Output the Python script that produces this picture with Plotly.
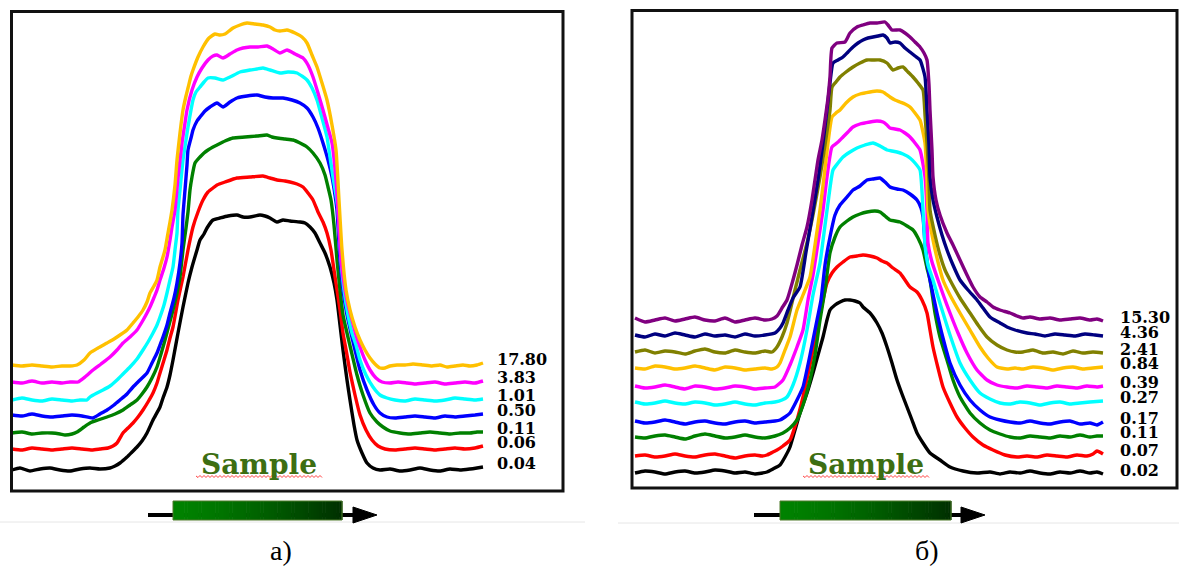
import plotly.graph_objects as go

W, H = 1179, 567

# ---------------- Panel a: (position, signal) pairs ----------------
A_YELLOW = [(2,126),(12,125),(22,126),(32,125),(42,124),(52,125),(60,125),(67,126),(74,131),(80,138),(88,143),(97,148),(104,152),(110,156),(117,161),(123,168),(128,174),(133,181),(137,189),(140,198),(144,205),(147,211),(150,224),(153,234),(155,241),(158,258),(160,269),(162,281),(165,306),(167,331),(170,358),(173,381),(176,395),(178,403),(181,415),(183,421),(188,434),(193,444),(199,453),(205,457),(210,456),(215,457),(219,460),(223,463),(230,466),(237,468),(245,467),(253,466),(260,464),(265,461),(270,460),(277,461),(285,458),(292,454),(297,448),(302,436),(307,424),(312,408),(317,391),(322,366),(326,341),(329,291),(332,241),(336,201),(340,181),(345,164),(350,151),(355,141),(360,133),(365,127),(370,123),(375,123),(380,125),(387,126),(395,126),(403,127),(413,126),(422,125),(430,126),(437,124),(445,125),(453,126),(460,125),(467,126),(473,128)]
A_MAGENTA = [(2,109),(12,108),(22,110),(32,108),(42,109),(52,108),(60,109),(68,109),(75,114),(83,121),(91,127),(100,134),(107,141),(113,148),(120,154),(127,161),(132,169),(137,178),(140,184),(143,191),(147,201),(150,211),(154,223),(157,234),(160,251),(162,264),(165,281),(168,313),(172,348),(175,368),(177,381),(182,401),(187,414),(192,423),(198,431),(203,435),(207,436),(213,433),(220,437),(227,441),(233,443),(240,444),(248,444),(257,445),(263,442),(270,438),(277,441),(285,437),(293,433),(298,426),(303,414),(308,398),(313,381),(318,363),(322,348),(326,311),(328,281),(331,231),(335,201),(338,186),(342,171),(346,156),(350,144),(355,131),(360,121),(366,113),(372,109),(380,108),(388,109),(397,108),(405,107),(415,108),(425,109),(435,107),(445,108),(455,109),(465,108),(473,110)]
A_CYAN = [(2,91),(12,93),(22,91),(32,90),(42,92),(52,91),(62,90),(70,91),(77,91),(80,94),(87,98),(93,101),(100,105),(107,111),(113,117),(120,124),(127,132),(133,141),(138,149),(143,158),(147,166),(150,174),(154,186),(157,198),(160,211),(163,224),(165,241),(167,258),(168,281),(170,301),(173,331),(176,351),(178,364),(181,381),(183,391),(186,399),(190,404),(194,409),(198,413),(205,413),(213,411),(220,414),(230,419),(240,421),(247,422),(253,423),(260,421),(270,418),(278,419),(287,418),(297,411),(302,403),(307,391),(312,373),(317,354),(320,334),(323,314),(326,296),(328,281),(331,231),(334,201),(338,176),(342,158),(346,146),(350,131),(356,116),(363,104),(370,96),(377,93),(385,91),(395,90),(405,92),(415,91),(425,90),(435,91),(445,93),(455,92),(465,91),(473,92)]
A_BLUE = [(2,76),(12,75),(22,77),(32,75),(42,74),(52,75),(62,76),(72,75),(83,73),(90,77),(97,81),(104,86),(110,91),(117,97),(123,104),(130,111),(137,118),(142,128),(147,138),(150,146),(153,154),(157,166),(160,178),(164,193),(167,208),(170,228),(172,248),(173,276),(175,301),(177,326),(178,341),(181,353),(183,361),(187,370),(190,374),(195,380),(200,384),(207,388),(213,384),(220,389),(227,393),(237,395),(247,396),(255,394),(263,393),(273,393),(282,391),(290,388),(297,383),(303,374),(308,363),(313,348),(318,331),(322,314),(325,296),(327,281),(330,231),(333,201),(337,176),(341,158),(345,141),(350,121),(357,101),(364,86),(370,78),(377,74),(385,73),(395,74),(405,75),(415,74),(425,73),(435,75),(445,74),(455,75),(465,76),(473,77)]
A_GREEN = [(2,58),(12,59),(22,57),(32,58),(42,58),(50,57),(55,56),(62,57),(67,59),(74,64),(80,68),(88,71),(97,74),(105,77),(113,81),(120,86),(127,91),(132,97),(137,104),(142,113),(147,124),(151,137),(155,151),(159,166),(163,181),(167,198),(170,214),(173,241),(176,263),(178,279),(180,301),(182,314),(185,328),(190,334),(194,338),(198,341),(203,344),(207,346),(215,350),(223,353),(235,354),(247,355),(257,356),(262,354),(267,353),(275,352),(283,351),(290,348),(297,344),(303,338),(310,328),(315,316),(318,304),(321,291),(324,266),(327,231),(330,201),(333,176),(337,158),(341,141),(347,116),(353,96),(360,78),(367,69),(373,64),(380,60),(390,58),(400,57),(410,58),(420,59),(430,58),(440,57),(450,58),(460,58),(467,59),(473,59)]
A_RED = [(2,42),(12,41),(22,43),(32,42),(42,41),(52,42),(62,43),(72,42),(82,41),(90,42),(98,43),(103,45),(107,48),(113,58),(118,63),(123,68),(128,74),(133,81),(138,89),(143,98),(147,108),(150,118),(154,131),(157,141),(160,153),(163,164),(168,191),(173,214),(178,241),(183,264),(188,279),(193,291),(198,299),(203,303),(207,306),(215,309),(227,313),(240,314),(253,315),(260,313),(267,311),(275,310),(280,309),(287,307),(293,304),(298,298),(303,291),(308,279),(313,269),(317,258),(321,241),(324,221),(327,201),(330,181),(333,158),(337,136),(340,119),(345,96),(350,76),(356,61),(362,51),(368,45),(375,42),(385,41),(395,42),(405,43),(415,42),(425,41),(435,42),(445,43),(455,42),(465,43),(473,45)]
A_BLACK = [(2,21),(10,23),(20,20),(30,22),(40,23),(50,21),(60,20),(70,22),(80,23),(90,22),(100,23),(105,25),(110,28),(117,34),(122,39),(127,44),(132,50),(137,58),(143,71),(150,84),(153,93),(157,104),(160,116),(163,131),(168,158),(173,184),(178,208),(182,224),(187,241),(190,251),(194,257),(197,263),(203,271),(210,273),(218,275),(227,276),(233,274),(240,274),(250,276),(255,275),(260,273),(267,269),(273,271),(280,270),(290,269),(295,268),(300,264),(305,258),(310,248),(315,238),(320,224),(324,208),(327,191),(330,166),(333,141),(337,111),(340,91),(344,66),(347,51),(352,38),(357,28),(363,23),(370,21),(380,22),(390,20),(400,21),(410,23),(420,21),(430,20),(440,22),(450,21),(460,22),(467,23),(473,24)]

A_SERIES = [A_BLACK, A_RED, A_GREEN, A_BLUE, A_CYAN, A_MAGENTA, A_YELLOW]
A_LABELS = ["0.04", "0.06", "0.11", "0.50", "1.01", "3.83", "17.80"]
A_COLORS = ["#000000", "#FF0000", "#008000", "#0000FF", "#00FFFF", "#FF00FF", "#FFC000"]

# ---------------- Panel b ----------------
B_PURPLE = [(3,170),(13,166),(23,168),(33,170),(43,167),(53,169),(63,171),(73,168),(83,167),(93,170),(103,166),(113,168),(123,170),(133,168),(140,169),(145,172),(150,180),(155,188),(161,208),(165,223),(170,243),(175,261),(180,288),(186,328),(190,348),(193,368),(196,390),(198,411),(200,440),(205,445),(213,446),(218,455),(225,461),(231,463),(238,465),(245,465),(253,466),(256,463),(260,458),(268,458),(273,455),(278,451),(283,446),(288,441),(292,435),(295,428),(297,403),(298,378),(300,338),(301,311),(304,288),(308,273),(315,255),(321,243),(328,228),(335,213),(341,201),(348,191),(355,186),(361,181),(368,178),(378,175),(385,172),(391,170),(398,171),(408,169),(418,170),(428,168),(438,169),(448,170),(458,168),(465,169),(471,167)]
B_NAVY = [(3,153),(13,151),(23,154),(33,152),(43,155),(53,153),(63,151),(73,154),(83,152),(93,153),(103,151),(113,154),(123,152),(133,153),(143,155),(148,160),(151,165),(156,178),(161,190),(168,201),(174,236),(180,271),(186,308),(191,345),(195,378),(198,405),(201,425),(206,428),(211,431),(216,436),(221,441),(226,445),(231,448),(236,450),(241,451),(246,452),(251,453),(255,450),(258,445),(263,446),(268,445),(273,440),(278,436),(283,432),(288,428),(293,411),(295,378),(297,343),(298,311),(301,288),(305,271),(310,253),(315,238),(321,223),(328,208),(336,198),(345,188),(351,180),(358,171),(368,165),(375,161),(383,158),(395,155),(403,154),(413,152),(423,154),(433,153),(443,152),(453,154),(463,153),(471,152)]
B_OLIVE = [(3,136),(13,138),(23,135),(33,137),(43,136),(53,134),(63,137),(73,139),(83,136),(93,135),(103,138),(113,136),(123,135),(133,137),(140,136),(145,141),(150,151),(155,165),(163,198),(168,218),(175,245),(181,273),(188,311),(193,343),(198,378),(200,401),(204,406),(208,411),(214,416),(221,421),(228,425),(235,428),(241,428),(248,428),(255,425),(261,418),(266,420),(271,421),(276,416),(281,411),(286,405),(291,398),(293,373),(295,345),(297,308),(298,278),(303,253),(308,233),(313,218),(318,208),(328,190),(338,175),(346,163),(355,151),(365,143),(375,138),(383,136),(391,136),(401,138),(411,135),(421,136),(431,134),(441,137),(451,135),(461,136),(471,135)]
B_GOLD = [(3,120),(13,119),(23,122),(33,121),(43,119),(53,120),(63,122),(73,120),(83,118),(93,121),(103,120),(113,118),(123,119),(133,120),(140,119),(145,121),(148,125),(153,138),(158,151),(165,178),(171,193),(178,211),(183,243),(188,278),(192,311),(196,345),(200,371),(204,375),(208,378),(214,385),(221,391),(228,394),(238,396),(245,397),(251,396),(258,391),(263,388),(268,386),(273,384),(278,381),(283,375),(288,368),(293,345),(295,308),(296,278),(301,248),(306,226),(311,208),(318,193),(328,175),(338,158),(348,141),(356,130),(365,121),(375,119),(383,120),(391,119),(401,121),(411,120),(421,118),(431,120),(441,121),(451,119),(461,120),(471,121)]
B_MAGENTA = [(3,102),(13,100),(23,101),(33,103),(43,101),(53,99),(63,102),(73,101),(83,99),(93,100),(103,102),(113,101),(123,99),(133,100),(143,101),(151,108),(158,123),(165,141),(171,158),(176,188),(181,213),(186,245),(191,278),(195,311),(200,341),(206,346),(211,351),(216,356),(221,361),(228,364),(238,366),(245,367),(251,366),(255,363),(258,360),(263,359),(268,358),(273,355),(278,351),(283,345),(288,338),(293,311),(295,278),(296,245),(300,226),(306,208),(312,191),(318,175),(326,155),(335,135),(345,118),(355,108),(365,103),(375,101),(385,100),(395,102),(405,101),(415,100),(425,102),(435,101),(445,100),(455,102),(465,101),(471,102)]
B_CYAN = [(3,86),(13,84),(23,85),(33,87),(43,85),(53,84),(63,86),(73,85),(83,83),(93,84),(103,86),(113,84),(123,83),(133,85),(143,86),(150,88),(155,91),(161,103),(168,125),(175,158),(181,193),(188,225),(192,255),(196,285),(201,318),(206,325),(211,331),(218,336),(225,340),(233,343),(241,345),(248,342),(255,338),(260,337),(265,336),(271,334),(278,330),(283,325),(288,318),(291,278),(293,243),(296,223),(301,208),(306,191),(311,175),(318,153),(328,125),(338,108),(348,95),(358,89),(368,85),(378,84),(388,86),(398,85),(408,83),(418,85),(428,86),(438,84),(448,85),(458,86),(471,87)]
B_BLUE = [(3,67),(13,65),(23,66),(33,68),(43,66),(53,64),(63,66),(73,67),(83,65),(93,64),(103,66),(113,67),(123,65),(133,66),(143,67),(148,68),(153,71),(158,75),(165,88),(171,101),(178,133),(185,168),(189,188),(193,223),(198,251),(203,273),(208,283),(215,291),(221,298),(228,302),(235,308),(241,309),(248,310),(253,306),(258,301),(265,299),(271,298),(278,294),(285,288),(289,280),(291,271),(293,245),(296,220),(298,208),(305,175),(311,150),(318,125),(328,103),(338,88),(348,78),(358,71),(368,68),(378,66),(388,65),(398,67),(408,65),(418,64),(428,66),(438,67),(448,64),(458,65),(465,63),(471,66)]
B_GREEN = [(3,51),(13,50),(23,52),(33,53),(43,51),(53,49),(63,52),(73,54),(83,52),(93,50),(103,51),(113,53),(123,51),(133,50),(143,52),(151,55),(158,60),(165,68),(171,83),(178,108),(183,133),(188,168),(193,198),(198,235),(203,251),(208,261),(215,267),(221,271),(228,274),(235,276),(243,277),(248,276),(253,272),(258,268),(263,267),(268,266),(275,262),(281,258),(286,250),(291,238),(295,220),(298,208),(303,175),(308,151),(315,128),(321,108),(328,91),(338,75),(348,65),(358,58),(368,54),(378,51),(388,50),(398,52),(408,51),(418,50),(428,52),(438,51),(448,53),(458,51),(465,52),(471,52)]
B_RED = [(3,32),(13,33),(23,31),(33,32),(43,34),(53,32),(63,31),(73,33),(83,34),(93,32),(103,30),(113,32),(123,33),(130,32),(135,33),(141,36),(145,38),(151,42),(158,48),(165,68),(171,91),(178,123),(185,158),(191,188),(195,205),(200,215),(205,221),(211,226),(218,231),(225,232),(231,233),(238,232),(245,230),(250,227),(255,225),(261,220),(268,215),(273,208),(278,201),(285,196),(290,188),(295,175),(298,158),(301,141),(306,120),(311,101),(318,85),(325,71),(333,60),(341,51),(351,43),(361,38),(373,33),(385,31),(395,32),(405,31),(415,33),(425,32),(435,31),(445,33),(455,32),(461,34),(465,37),(471,34)]
B_BLACK = [(3,15),(13,17),(23,16),(33,14),(43,16),(53,17),(63,15),(73,16),(83,18),(93,17),(103,15),(113,16),(123,14),(135,16),(141,19),(148,23),(153,31),(158,41),(163,58),(168,75),(175,95),(181,115),(186,133),(191,151),(195,168),(198,178),(203,183),(208,186),(213,188),(218,188),(223,187),(228,185),(231,181),(238,175),(245,165),(250,155),(255,141),(260,125),(265,108),(270,94),(275,81),(280,68),(285,55),(291,45),(298,35),(308,28),(318,21),(331,17),(345,15),(358,16),(368,14),(378,16),(388,15),(398,17),(408,15),(418,14),(428,16),(438,15),(448,17),(458,15),(465,16),(471,14)]

B_SERIES = [B_BLACK, B_RED, B_GREEN, B_BLUE, B_CYAN, B_MAGENTA, B_GOLD, B_OLIVE, B_NAVY, B_PURPLE]
B_LABELS = ["0.02", "0.07", "0.11", "0.17", "0.27", "0.39", "0.84", "2.41", "4.36", "15.30"]
B_COLORS = ["#000000", "#FF0000", "#008000", "#0000FF", "#00FFFF", "#FF00FF", "#FFC000", "#808000", "#000080", "#800080"]

CAPTIONS = ["а)", "б)"]
SAMPLE_TEXT = "Sample"


def fx(px):
    return px / W


def fy(py):
    return 1 - py / H


fig = go.Figure()

for pts, col in zip(A_SERIES, A_COLORS):
    fig.add_trace(go.Scatter(x=[p[0] for p in pts], y=[p[1] for p in pts], mode="lines",
                             line=dict(color=col, width=3.4, shape="spline", smoothing=0.5),
                             xaxis="x", yaxis="y", showlegend=False, hoverinfo="skip"))
for pts, col in zip(B_SERIES, B_COLORS):
    fig.add_trace(go.Scatter(x=[p[0] for p in pts], y=[p[1] for p in pts], mode="lines",
                             line=dict(color=col, width=3.4, shape="spline", smoothing=0.5),
                             xaxis="x2", yaxis="y2", showlegend=False, hoverinfo="skip"))

annotations = []
label_font = dict(family="DejaVu Serif", size=16, color="#000000", weight="bold")
for pts, lab in zip(A_SERIES, A_LABELS):
    annotations.append(dict(x=pts[-1][0] + 12, y=pts[-1][1] + 4, xref="x", yref="y", text=lab,
                            showarrow=False, xanchor="left", yanchor="middle", font=label_font))
for pts, lab in zip(B_SERIES, B_LABELS):
    annotations.append(dict(x=pts[-1][0] + 15, y=pts[-1][1] + 4, xref="x2", yref="y2", text=lab,
                            showarrow=False, xanchor="left", yanchor="middle", font=label_font))

sample_font = dict(family="DejaVu Serif", size=28, color="#3d6e12", weight="bold")
for cx in (259, 866):
    annotations.append(dict(x=fx(cx), y=fy(464), xref="paper", yref="paper", text=SAMPLE_TEXT,
                            showarrow=False, xanchor="center", yanchor="middle", font=sample_font))

cap_font = dict(family="Liberation Serif", size=28, color="#000000")
for cx, cap in zip((281, 927), CAPTIONS):
    annotations.append(dict(x=fx(cx), y=fy(550), xref="paper", yref="paper", text=cap,
                            showarrow=False, xanchor="center", yanchor="middle", font=cap_font))

shapes = []
# panel frames
for xr, yr in (("x domain", "y domain"), ("x2 domain", "y2 domain")):
    shapes.append(dict(type="rect", xref=xr, yref=yr, x0=0, x1=1, y0=0, y1=1,
                       line=dict(color="#111111", width=3), layer="above"))

# faint page lines under panels
shapes.append(dict(type="line", xref="paper", yref="paper", x0=0, x1=fx(585), y0=fy(522), y1=fy(522),
                   line=dict(color="#e6e6e6", width=1)))
shapes.append(dict(type="line", xref="paper", yref="paper", x0=fx(618), x1=1, y0=fy(523), y1=fy(523),
                   line=dict(color="#e6e6e6", width=1)))

# red wavy underline below "Sample"
for x0 in (196, 803):
    path = "M %f,%f" % (fx(x0), fy(476))
    k = 0
    x = x0
    while x < x0 + 126:
        x += 2
        k += 1
        path += " L %f,%f" % (fx(x), fy(476 + (1.5 if k % 2 else -0.5)))
    shapes.append(dict(type="path", xref="paper", yref="paper", path=path,
                       line=dict(color="#ff4040", width=1)))

# sample arrows with gradient bars
for (s0, r0, r1, tip) in ((148, 173, 342, 377), (754, 780, 951, 985)):
    shapes.append(dict(type="line", xref="paper", yref="paper", x0=fx(s0), x1=fx(tip - 20),
                       y0=fy(515), y1=fy(515), line=dict(color="#000000", width=4)))
    shapes.append(dict(type="path", xref="paper", yref="paper",
                       path="M %f,%f L %f,%f L %f,%f Z" % (fx(tip - 24), fy(507), fx(tip), fy(515), fx(tip - 24), fy(523)),
                       fillcolor="#000000", line=dict(color="#000000", width=1)))
    n = 60
    wdt = (r1 - r0) / n
    for i in range(n):
        t = i / (n - 1)
        g = int(round(130 - 82 * t ** 1.4))
        col = "rgb(0,%d,0)" % g
        shapes.append(dict(type="rect", xref="paper", yref="paper",
                           x0=fx(r0 + i * wdt), x1=fx(r0 + (i + 1) * wdt + 0.6),
                           y0=fy(520), y1=fy(501), fillcolor=col, line=dict(width=0)))
    shapes.append(dict(type="rect", xref="paper", yref="paper", x0=fx(r0), x1=fx(r1),
                       y0=fy(520), y1=fy(501), fillcolor="rgba(0,0,0,0)",
                       line=dict(color="#4f7a2a", width=1)))

axis_common = dict(visible=False, showgrid=False, zeroline=False, fixedrange=True)
fig.update_layout(
    width=W, height=H,
    margin=dict(l=0, r=0, t=0, b=0),
    paper_bgcolor="#ffffff", plot_bgcolor="#ffffff",
    xaxis=dict(domain=[fx(11.5), fx(563)], range=[1.5, 553], anchor="y", **axis_common),
    yaxis=dict(domain=[fy(491), fy(11.5)], range=[0, 479.5], anchor="x", **axis_common),
    xaxis2=dict(domain=[fx(632), fx(1177)], range=[0, 545], anchor="y2", **axis_common),
    yaxis2=dict(domain=[fy(488), fy(10.5)], range=[0, 477.5], anchor="x2", **axis_common),
    annotations=annotations,
    shapes=shapes,
    showlegend=False,
)

fig.write_html("out.html", config={"displayModeBar": False},
               post_script="document.body.style.margin='0px';document.body.style.overflow='hidden';")
